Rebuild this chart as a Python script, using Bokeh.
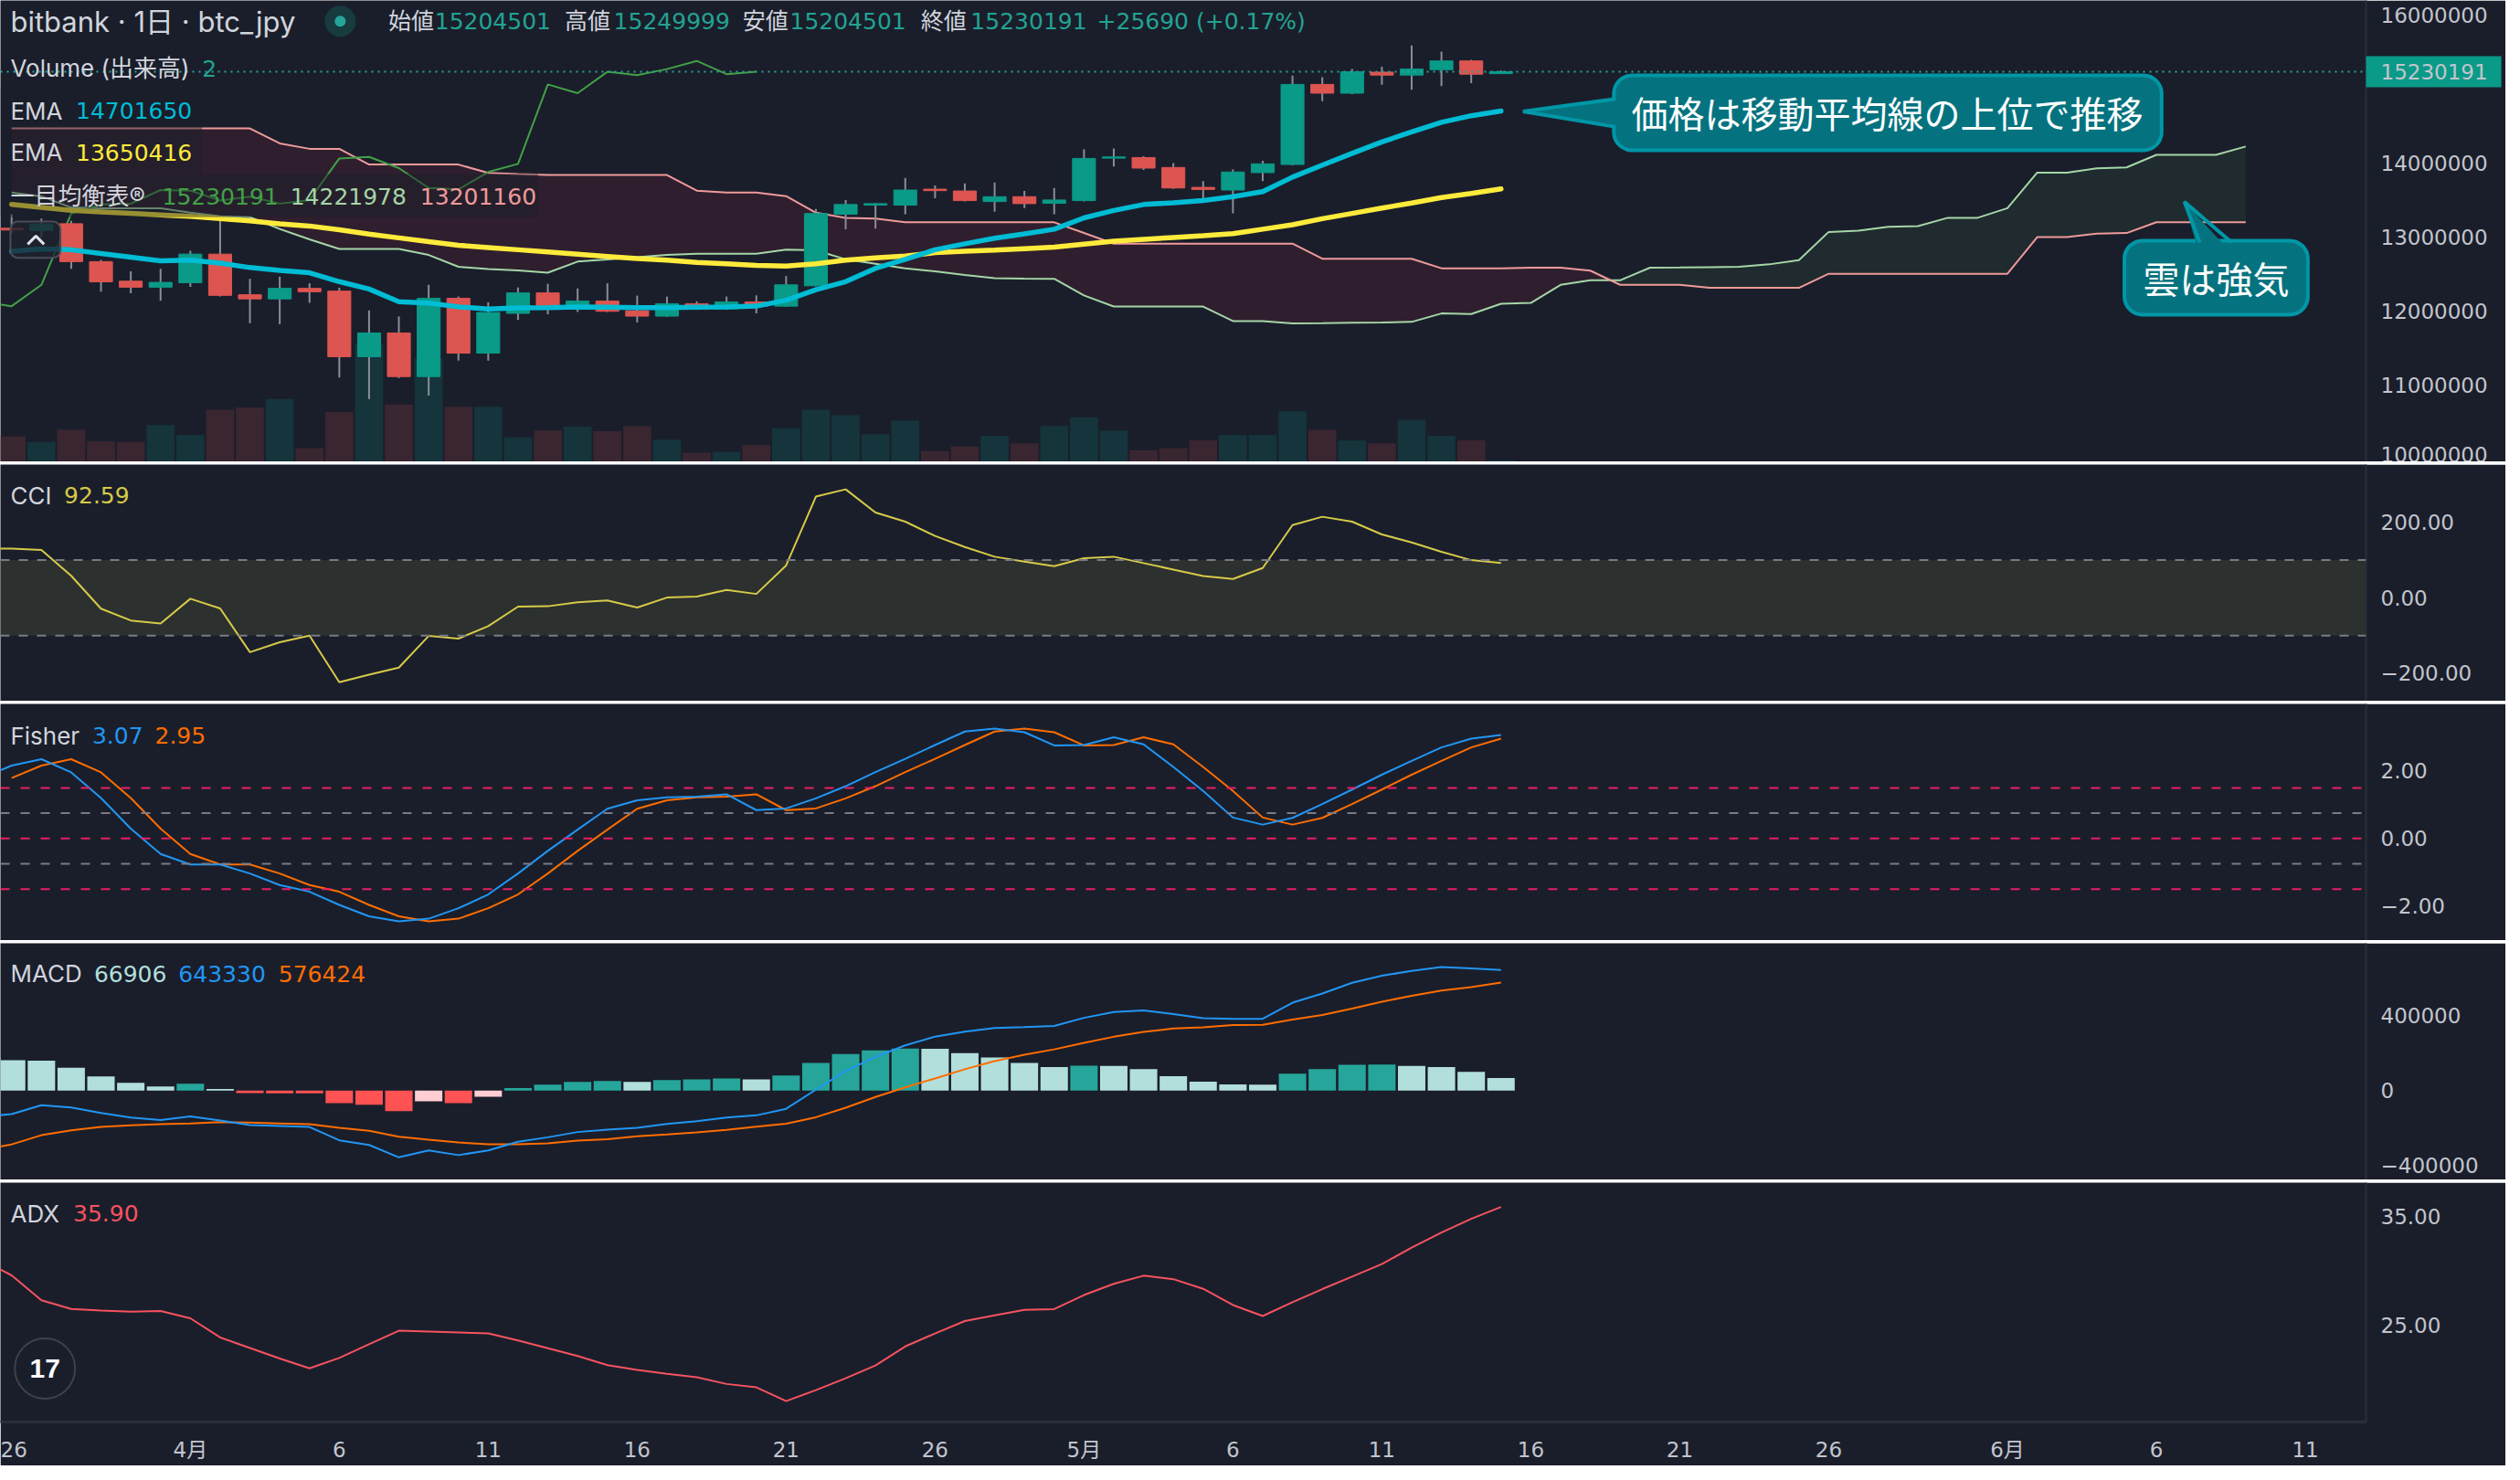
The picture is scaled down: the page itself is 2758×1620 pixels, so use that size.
import numpy as np
from bokeh.plotting import figure
from bokeh.layouts import column
from bokeh.models import Range1d, FixedTicker, Span, Label, BoxAnnotation
from bokeh.embed import file_html
from bokeh.resources import INLINE

# ---------------- data ----------------
x_tick_days = [0, 6, 11, 16, 21, 26, 31, 36, 41, 46, 51, 56, 61, 67, 72, 77]
x_tick_labels = ["26", "4月", "6", "11", "16", "21", "26", "5月", "6", "11",
                 "16", "21", "26", "6月", "6", "11"]

# daily candles, day 0 = 3/26 ... day 50 = 5/15 (JPY)
candle_open = [13120000, 13088000, 13181000, 12670000, 12406000, 12325000, 12386000, 12771000, 12223000, 12167000,
               12309000, 12272000, 11388000, 11708000, 11120000, 12175000, 11436000, 11972000, 12248000, 12041000,
               12138000, 12008000, 11935000, 12102000, 12033000, 12126000, 12069000, 12344000, 13310000, 13432000,
               13432000, 13647000, 13622000, 13480000, 13545000, 13456000, 13493000, 14065000, 14073000, 13939000,
               13671000, 13635000, 13870000, 13980000, 15059000, 14941000, 15225000, 15185000, 15258000, 15376000,
               15204501]
candle_high = [13310000, 13250000, 13220000, 12694000, 12540000, 12572000, 12816000, 13279000, 12438000, 12467000,
               12378000, 12317000, 12012000, 11931000, 12357000, 12199000, 12122000, 12321000, 12370000, 12309000,
               12378000, 12211000, 12199000, 12134000, 12199000, 12215000, 12475000, 13379000, 13501000, 13460000,
               13797000, 13696000, 13724000, 13736000, 13622000, 13663000, 14183000, 14195000, 14090000, 14000000,
               13756000, 13911000, 14028000, 15177000, 15156000, 15266000, 15298000, 15583000, 15501000, 15390000,
               15249999]
candle_low = [13050000, 12990000, 12572000, 12264000, 12244000, 12142000, 12329000, 12200000, 11838000, 11826000,
              12114000, 11108000, 10816000, 11100000, 10864000, 11335000, 11335000, 11883000, 11960000, 11992000,
              11990000, 11850000, 11925000, 12020000, 12020000, 11972000, 12060000, 12336000, 13107000, 13115000,
              13310000, 13525000, 13480000, 13342000, 13391000, 13310000, 13480000, 13951000, 13907000, 13650000,
              13485000, 13322000, 13756000, 13968000, 14832000, 14930000, 15055000, 14986000, 15035000, 15075000,
              15204501]
candle_close = [13096000, 13177000, 12670000, 12398000, 12325000, 12390000, 12771000, 12215000, 12167000, 12309000,
                12264000, 11388000, 11708000, 11120000, 12175000, 11436000, 11984000, 12248000, 12041000, 12138000,
                12000000, 11935000, 12102000, 12033000, 12126000, 12069000, 12357000, 13318000, 13440000, 13452000,
                13635000, 13627000, 13493000, 13545000, 13452000, 13501000, 14061000, 14081000, 13931000, 13663000,
                13643000, 13878000, 13988000, 15059000, 14941000, 15229000, 15185000, 15266000, 15376000, 15197000,
                15230191]
volume = [33, 26, 42, 27, 26, 48, 35, 68, 71, 82, 18, 65, 153, 75, 135, 72, 72, 32, 41, 46,
          40, 47, 29, 12, 13, 22, 44, 68, 61, 36, 54, 14, 20, 34, 24, 47, 58, 41, 15, 18,
          28, 35, 35, 66, 42, 28, 24, 55, 34, 28, 2]

# EMAs, day 0..50 (million JPY)
ema_fast = [12.81, 12.84, 12.83, 12.78, 12.73, 12.68, 12.69, 12.65, 12.59, 12.55,
            12.52, 12.40, 12.30, 12.13, 12.11, 12.06, 12.03, 12.045, 12.05, 12.06,
            12.055, 12.05, 12.05, 12.055, 12.06, 12.07, 12.15, 12.29, 12.40, 12.58,
            12.70, 12.83, 12.91, 12.985, 13.045, 13.107, 13.26, 13.36, 13.44, 13.464,
            13.493, 13.545, 13.614, 13.809, 13.971, 14.13, 14.284, 14.418, 14.548, 14.637,
            14.70165]
ema_slow = [13.44, 13.40, 13.36, 13.34, 13.32, 13.30, 13.28, 13.25, 13.22, 13.18,
            13.15, 13.10, 13.04, 12.99, 12.94, 12.89, 12.86, 12.83, 12.80, 12.77,
            12.74, 12.71, 12.69, 12.66, 12.64, 12.62, 12.61, 12.64, 12.69, 12.72,
            12.745, 12.79, 12.81, 12.825, 12.845, 12.865, 12.905, 12.945, 12.97, 12.995,
            13.02, 13.046, 13.107, 13.168, 13.249, 13.32, 13.391, 13.46, 13.533, 13.59,
            13.650416]

# Ichimoku leading spans, day 0..75 (million JPY)
span_a = [13.60, 13.55, 13.40, 13.39, 13.39, 13.39, 13.33, 13.28, 13.27, 13.11,
          12.97, 12.84, 12.84, 12.84, 12.76, 12.60, 12.57, 12.55, 12.52, 12.67,
          12.70, 12.73, 12.76, 12.775, 12.775, 12.775, 12.831, 12.823, 12.701, 12.64,
          12.580, 12.539, 12.49, 12.446, 12.44, 12.438, 12.214, 12.064, 12.064, 12.064,
          12.064, 11.869, 11.869, 11.837, 11.84, 11.845, 11.85, 11.857, 11.971, 11.963,
          12.101, 12.113, 12.357, 12.418, 12.418, 12.588, 12.59, 12.595, 12.60, 12.633,
          12.69, 13.07, 13.087, 13.14, 13.148, 13.261, 13.261, 13.39, 13.87, 13.87,
          13.927, 13.94, 14.11, 14.11, 14.11, 14.221978]
span_b = [14.466, 14.466, 14.466, 14.466, 14.466, 14.466, 14.466, 14.466, 14.466, 14.264,
          14.191, 14.191, 13.979, 13.979, 13.979, 13.979, 13.866, 13.85, 13.838, 13.838,
          13.838, 13.838, 13.838, 13.627, 13.602, 13.602, 13.553, 13.33, 13.26, 13.25,
          13.20, 13.20, 13.20, 13.20, 13.20, 13.20, 13.056, 12.912, 12.912, 12.912,
          12.912, 12.912, 12.912, 12.912, 12.709, 12.709, 12.709, 12.709, 12.580, 12.580,
          12.580, 12.588, 12.588, 12.548, 12.357, 12.357, 12.357, 12.316, 12.316, 12.316,
          12.316, 12.506, 12.506, 12.506, 12.506, 12.506, 12.506, 12.506, 13.0, 13.0,
          13.047, 13.055, 13.201, 13.201, 13.201, 13.20116]
lagging_shift = 25

# oscillators, day -1..50
cci = [131, 130.5, 126.7, 58.4, -28.8, -60.1, -68.0, -2.4, -28.1, -144.2,
       -117.8, -100.2, -223.6, -203.6, -185.1, -101.0, -108.2, -75.2, -23.3, -22.4,
       -12.0, -7.2, -25.7, 0.7, 3.1, 20.9, 10.3, 85.8, 268.5, 287.7,
       226, 202, 164, 134.6, 109, 96, 84, 105, 109, 92,
       75, 58, 50, 79, 193, 215, 202, 168, 147, 122,
       100, 92.59]
fisher = [1.79, 2.16, 2.35, 1.96, 1.20, 0.29, -0.46, -0.77, -0.77, -1.04,
          -1.38, -1.58, -1.97, -2.31, -2.46, -2.38, -2.07, -1.66, -1.04, -0.37,
          0.26, 0.88, 1.13, 1.22, 1.24, 1.31, 0.84, 0.89, 1.19, 1.55,
          1.97, 2.36, 2.77, 3.17, 3.26, 3.15, 2.76, 2.77, 3.00, 2.79,
          2.12, 1.41, 0.62, 0.41, 0.61, 1.02, 1.45, 1.89, 2.30, 2.70,
          2.96, 3.07]
macd_k = [-140, -125, -78, -90, -119, -144, -157, -138, -160, -184,
          -189, -194, -265, -290, -356, -319, -344, -319, -273, -249,
          -221, -208, -198, -178, -163, -144, -132, -97, 5, 104,
          180, 241, 288, 314, 334, 339, 345, 388, 419, 428,
          408, 386, 383, 383, 469, 518, 575, 613, 638, 659,
          652, 643.330]
hist_k = [175, 162, 160, 122, 75, 41, 22, 37, 8, -13,
          -14, -15, -67, -76, -110, -57, -67, -33, 13, 32,
          46, 51, 46, 56, 60, 65, 60, 80, 147, 195,
          214, 224, 223, 200, 177, 148, 125, 133, 132, 115,
          77, 48, 33, 32, 90, 115, 138, 139, 132, 125,
          100, 66.906]
adx = [31.0, 29.57, 27.27, 26.47, 26.32, 26.21, 26.27, 25.6, 23.83, 22.86,
       21.88, 20.98, 21.94, 23.2, 24.45, 24.37, 24.29, 24.2, 23.56, 22.83,
       22.11, 21.27, 20.82, 20.46, 20.15, 19.53, 19.22, 17.95, 18.96, 20.06,
       21.24, 23.0, 24.2, 25.35, 25.87, 26.39, 26.45, 27.75, 28.79, 29.54,
       29.22, 28.33, 26.83, 25.81, 27.09, 28.3, 29.45, 30.61, 32.14, 33.53,
       34.8, 35.90]

# ---------------- styling / layout ----------------
W = 2742
AX_W = 153
H_MAIN, H_SUB, H_ADX = 505, 259, 310
BG = "#1a1e2b"
TXT = "#d1d4dc"
AXT = "#c2c5cd"
FONT = "Inter, 'Noto Sans CJK JP', sans-serif"
JFONT = "'Noto Sans CJK JP', sans-serif"
NFONT = "DejaVu Sans"
AFONT = "DejaVu Sans"
UP, DN = "#0a9a88", "#dd5550"
WICK = "#8a8d97"


# reference pixel -> data helpers (for annotation placement only)
def dx(px):
    return (px - 12.3) / 32.79


def py_main(py):
    return 16e6 - (py - 15.7) / 82.15 * 1e6


def py_cci(py):
    return (661 - py) / 0.416


def py_fis(py):
    return (926.4 - py) / 37.2


def py_macd(py):
    return (1207 - py) * 4762


def py_adx(py):
    return 35 - (py - 1343.5) / 11.93


xr = Range1d(dx(0), dx(2604))


def make_fig(h, yr, bottom_axis=False):
    f = figure(width=W, height=h, x_range=xr, y_range=yr, y_axis_location="right",
               x_axis_location="below" if bottom_axis else None,
               toolbar_location=None, output_backend="svg",
               min_border_left=0, min_border_right=AX_W, min_border_top=0,
               min_border_bottom=48 if bottom_axis else 0,
               background_fill_color=BG, border_fill_color=BG, outline_line_color=None)
    f.grid.visible = False
    return f


def style_y(f, ticks, labels, minor=None):
    a = f.yaxis[0]
    a.ticker = FixedTicker(ticks=ticks, minor_ticks=minor or [])
    a.major_label_overrides = dict(zip(ticks, labels))
    a.major_label_text_color = AXT
    a.major_label_text_font = AFONT
    a.major_label_text_font_size = "23px"
    a.major_tick_line_color = None
    a.minor_tick_line_color = None
    a.major_tick_out = 0
    a.major_tick_in = 0
    a.minor_tick_out = 0
    a.minor_tick_in = 0
    a.axis_line_color = "#2a2e39"
    a.axis_line_width = 2
    a.major_label_standoff = 16
    return a


def txt(f, px, y, s, color, size=25, font=FONT, align="left", bold=False):
    f.add_layout(Label(x=dx(px), y=y, text=s, text_color=color, text_font=font,
                       text_font_size=f"{size}px", text_baseline="middle", text_align=align,
                       text_font_style="bold" if bold else "normal"))


d = np.arange(len(candle_open))
o = np.array(candle_open, float)
h = np.array(candle_high, float)
lo = np.array(candle_low, float)
c = np.array(candle_close, float)
up = c >= o
ccol = [UP if u else DN for u in up]
vcol = ["#15343b" if u else "#3a2630" for u in up]
ind_d = np.arange(-1, len(candle_open))

# ---------------- main price panel ----------------
pm = make_fig(H_MAIN, Range1d(py_main(511), py_main(0)))
last = candle_close[-1]
ay = style_y(pm, [10e6, 11e6, 12e6, 13e6, 14e6, 16e6, last],
             ["10000000", "11000000", "12000000", "13000000", "14000000", "16000000", str(last)],
             minor=[last])
# last-price tag on the axis: a wide minor tick drawn outward (negative inward length)
ay.minor_tick_line_color = "#0a9a88"
ay.minor_tick_line_width = 34
ay.minor_tick_out = 0
ay.minor_tick_in = -148

pm.extra_y_ranges = {"vol": Range1d(0, 511 * 1.18)}
pm.vbar(x=d, top=volume, bottom=0, width=0.94, fill_color=vcol, line_color=None, y_range_name="vol")

# cloud with crossings
sx = np.arange(len(span_a), dtype=float)
A = np.array(span_a) * 1e6
B = np.array(span_b) * 1e6
xs, ya, yb = [sx[0]], [A[0]], [B[0]]
for i in range(len(sx) - 1):
    d0, d1 = A[i] - B[i], A[i + 1] - B[i + 1]
    if d0 * d1 < 0:
        t = d0 / (d0 - d1)
        yc = A[i] + t * (A[i + 1] - A[i])
        xs.append(sx[i] + t); ya.append(yc); yb.append(yc)
    xs.append(sx[i + 1]); ya.append(A[i + 1]); yb.append(B[i + 1])
xs, ya, yb = np.array(xs), np.array(ya), np.array(yb)
pm.varea(x=xs, y1=yb, y2=np.maximum(ya, yb), fill_color="#1f2b2e")
pm.varea(x=xs, y1=ya, y2=np.maximum(ya, yb), fill_color="#2f1f2e")
pm.line(sx, A, line_color="#a5d6a7", line_width=2)
pm.line(sx, B, line_color="#ef9a9a", line_width=2)
pm.line(d - lagging_shift, c, line_color="#43a047", line_width=2)

# candles
pm.segment(x0=d, y0=lo, x1=d, y1=h, line_color=WICK, line_width=2)
pm.vbar(x=d, width=0.77, top=np.maximum(o, c), bottom=np.minimum(o, c),
        fill_color=ccol, line_color=ccol, line_width=1)

pm.line(d, np.array(ema_slow) * 1e6, line_color="#ffeb3b", line_width=5.5, line_cap="round")
pm.line(d, np.array(ema_fast) * 1e6, line_color="#00bcd4", line_width=5.5, line_cap="round")
pm.add_layout(Span(location=last, dimension="width", line_color="#26a69a",
                   line_dash="2 5", line_width=2))

# translucent legend backgrounds
for x1, t1, b1 in [(222, 96, 143.5), (222, 143.5, 192), (592, 192, 240)]:
    pm.quad(left=dx(0), right=dx(x1), top=py_main(t1), bottom=py_main(b1),
            fill_color=BG, fill_alpha=0.45, line_color=None)

# collapse button
pm.quad(left=dx(11), right=dx(66), top=py_main(245), bottom=py_main(285),
        fill_color="#1e222d", fill_alpha=0.8, line_color="#4a4d57", line_width=2, border_radius=8)
pm.line([dx(30), dx(39), dx(48)], [py_main(270), py_main(261), py_main(270)],
        line_color="#e0e3eb", line_width=3)

# callouts
CF, CB = "#05737f", "#0097a7"
pm.quad(left=dx(1776), right=dx(2379), top=py_main(83), bottom=py_main(166),
        fill_color=CF, line_color=CB, line_width=4, border_radius=20)
pm.patch([dx(1676), dx(1790), dx(1790)], [py_main(123), py_main(109), py_main(140)],
         fill_color=CF, line_color=None)
pm.line([dx(1778), dx(1676), dx(1778)], [py_main(109), py_main(123), py_main(140)],
        line_color=CB, line_width=4)
pm.quad(left=dx(2338), right=dx(2540), top=py_main(266), bottom=py_main(348),
        fill_color=CF, line_color=CB, line_width=4, border_radius=20)
pm.patch([dx(2420), dx(2404), dx(2456)], [py_main(280), py_main(223), py_main(280)],
         fill_color=CF, line_color=None)
pm.line([dx(2421), dx(2404), dx(2456)], [py_main(268), py_main(223), py_main(268)],
        line_color=CB, line_width=4)
txt(pm, 2077, py_main(124), "価格は移動平均線の上位で推移", "#ffffff", size=40, font=JFONT, align="center")
txt(pm, 2439, py_main(307), "雲は強気", "#ffffff", size=40, font=JFONT, align="center")

# status dot in title
pm.scatter(x=[dx(374)], y=[py_main(23)], size=34, fill_color="#173b3e", line_color=None)
pm.scatter(x=[dx(374)], y=[py_main(23)], size=12, fill_color="#26a69a", line_color=None)

# legends
txt(pm, 11, py_main(23), "bitbank · 1日 · btc_jpy", TXT, size=31)
TEAL = "#22a392"
for px, s, col, fnt in [(427, "始値", TXT, FONT), (478, "15204501", TEAL, NFONT),
                        (621, "高値", TXT, FONT), (675, "15249999", TEAL, NFONT),
                        (817, "安値", TXT, FONT), (869, "15204501", TEAL, NFONT),
                        (1013, "終値", TXT, FONT), (1068, "15230191", TEAL, NFONT),
                        (1207, "+25690 (+0.17%)", TEAL, NFONT)]:
    txt(pm, px, py_main(23), s, col, size=25, font=fnt)
txt(pm, 11, py_main(75), "Volume (出来高)", TXT, size=26)
txt(pm, 222, py_main(75), "2", TEAL, font=NFONT)
txt(pm, 11, py_main(122), "EMA", TXT, size=26)
txt(pm, 83, py_main(122), "14701650", "#00bcd4", font=NFONT)
txt(pm, 11, py_main(168), "EMA", TXT, size=26)
txt(pm, 83, py_main(168), "13650416", "#ffeb3b", font=NFONT)
txt(pm, 11, py_main(217), "一目均衡表®", TXT, size=26)
txt(pm, 178, py_main(217), "15230191", "#43a047", font=NFONT)
txt(pm, 319, py_main(217), "14221978", "#a5d6a7", font=NFONT)
txt(pm, 462, py_main(217), "13201160", "#ef9a9a", font=NFONT)

# ---------------- CCI ----------------
pc = make_fig(H_SUB, Range1d(py_cci(775), py_cci(514)))
style_y(pc, [-200, 0, 200], ["−200.00", "0.00", "200.00"])
pc.add_layout(BoxAnnotation(bottom=-100, top=100, fill_color="#2c302f", fill_alpha=1,
                            line_color=None, level="underlay"))
for lv in (100, -100):
    pc.add_layout(Span(location=lv, dimension="width", line_color="#787b86",
                       line_dash="10 10", line_width=2))
pc.line(ind_d, cci, line_color="#d6ca48", line_width=2)
txt(pc, 11, py_cci(548), "CCI", TXT, size=26)
txt(pc, 70, py_cci(548), "92.59", "#d6ca48", font=NFONT)

# ---------------- Fisher ----------------
pf = make_fig(H_SUB, Range1d(py_fis(1039), py_fis(778)))
style_y(pf, [-2, 0, 2], ["−2.00", "0.00", "2.00"])
for lv, col in [(1.5, "#e91e63"), (0.75, "#787b86"), (0, "#e91e63"), (-0.75, "#787b86"), (-1.5, "#e91e63")]:
    pf.add_layout(Span(location=lv, dimension="width", line_color=col, line_dash="10 12", line_width=2))
fv = np.array(fisher)
pf.line(ind_d[1:], fv[:-1], line_color="#ff6d00", line_width=2)
pf.line(ind_d, fv, line_color="#2196f3", line_width=2)
txt(pf, 11, py_fis(813), "Fisher", TXT, size=26)
txt(pf, 101, py_fis(813), "3.07", "#2196f3", font=NFONT)
txt(pf, 170, py_fis(813), "2.95", "#ff6d00", font=NFONT)

# ---------------- MACD ----------------
pmc = make_fig(H_SUB, Range1d(py_macd(1307), py_macd(1042)))
style_y(pmc, [-400000, 0, 400000], ["−400000", "0", "400000"])
hv = np.array(hist_k) * 1000
mv = np.array(macd_k) * 1000
prev = np.concatenate([[hv[0]], hv[:-1]])
hcol = []
for v, pv in zip(hv, prev):
    if v >= 0:
        hcol.append("#26a69a" if v > pv else "#b2dfdb")
    else:
        hcol.append("#ffcdd2" if v > pv else "#ff5252")
pmc.vbar(x=ind_d, top=hv, bottom=0, width=0.92, fill_color=hcol, line_color=None)
pmc.line(ind_d, mv - hv, line_color="#ff6d00", line_width=2)
pmc.line(ind_d, mv, line_color="#2196f3", line_width=2)
txt(pmc, 11, py_macd(1076), "MACD", TXT, size=26)
txt(pmc, 103, py_macd(1076), "66906", "#b2dfdb", font=NFONT)
txt(pmc, 196, py_macd(1076), "643330", "#2196f3", font=NFONT)
txt(pmc, 306, py_macd(1076), "576424", "#ff6d00", font=NFONT)

# ---------------- ADX ----------------
pa = make_fig(H_ADX, Range1d(py_adx(1570), py_adx(1306)), bottom_axis=True)
style_y(pa, [25, 35], ["25.00", "35.00"])
pa.line(ind_d, adx, line_color="#f7525f", line_width=2)
txt(pa, 11, py_adx(1340), "ADX", TXT, size=26)
txt(pa, 80, py_adx(1340), "35.90", "#f7525f", font=NFONT)
pa.scatter(x=[dx(49)], y=[py_adx(1511)], size=66, fill_color=BG, line_color="#3e414b", line_width=2)
txt(pa, 49, py_adx(1511), "17", "#ffffff", size=30, font="Liberation Sans", align="center", bold=True)

xa = pa.xaxis[0]
xa.ticker = FixedTicker(ticks=x_tick_days)
xa.major_label_overrides = dict(zip(x_tick_days, x_tick_labels))
xa.major_label_text_color = AXT
xa.major_label_text_font = "DejaVu Sans, 'Noto Sans CJK JP'"
xa.major_label_text_font_size = "23px"
xa.major_tick_line_color = None
xa.minor_tick_line_color = None
xa.major_tick_out = 0
xa.major_tick_in = 0
xa.axis_line_color = "#2a2e39"
xa.axis_line_width = 3
xa.major_label_standoff = 17

layout = column(pm, pc, pf, pmc, pa, spacing=3)
open("out.html", "w").write(file_html(layout, INLINE))
